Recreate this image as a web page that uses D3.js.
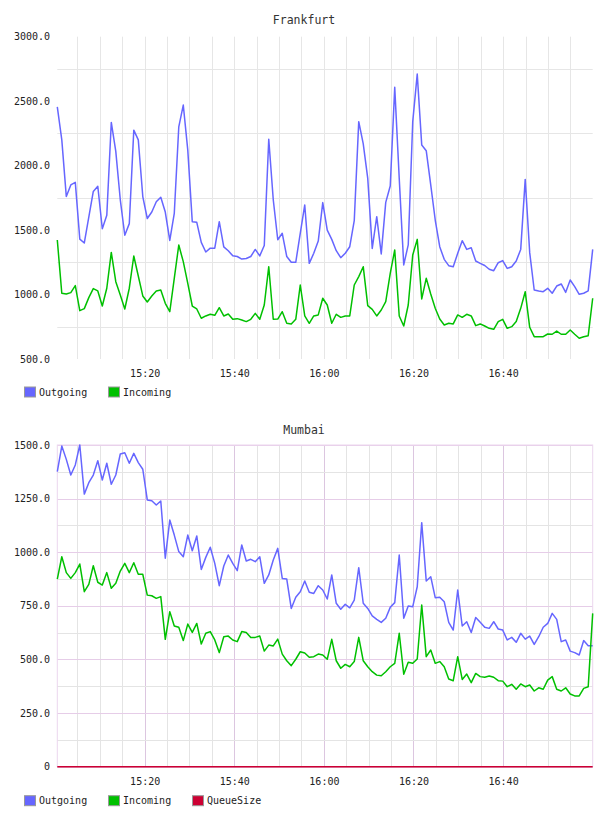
<!DOCTYPE html>
<html><head><meta charset="utf-8">
<script src="https://cdn.jsdelivr.net/npm/d3@7"></script>
<style>body{margin:0;background:#fff}svg{display:block}</style>
</head><body>
<svg id="c" width="608" height="816"></svg>
<script>
// ---- data ----
const startTime = [15, 0, 30];      // first sample h,m,s
const stepSeconds = 60.25;          // sampling interval
const xTickLabels = ["15:20", "15:40", "16:00", "16:20", "16:40"];
const seriesNames = ["Outgoing", "Incoming", "QueueSize"];
const frankfurtYTicks = [500, 1000, 1500, 2000, 2500, 3000];
const mumbaiYTicks = [0, 250, 500, 750, 1000, 1250, 1500];

const frankfurtOutgoing = [2455,2200,1760,1850,1870,1430,1400,1600,1800,1840,1510,1615,2335,2110,1735,1460,1550,2275,2200,1760,
1590,1640,1720,1755,1640,1420,1630,2300,2470,2120,1565,1560,1405,1330,1360,1360,1565,1370,1340,1300,
1295,1275,1280,1295,1350,1300,1380,2205,1735,1425,1475,1295,1250,1250,1475,1695,1242,1320,1415,1713,
1500,1428,1340,1286,1320,1371,1573,2341,2168,1901,1358,1604,1315,1715,1842,2607,1900,1230,1385,2341,
2710,2160,2116,1850,1578,1371,1273,1224,1216,1320,1418,1350,1363,1260,1242,1225,1196,1185,1247,1263,
1203,1216,1260,1350,1893,1325,1035,1028,1022,1048,1010,1066,1082,1017,1113,1061,1002,1010,1028,1350];

const frankfurtIncoming = [1423,1010,1004,1015,1069,875,891,976,1046,1028,911,1049,1327,1100,997,888,1049,1299,1144,989,
942,989,1028,1035,932,867,1126,1384,1255,1087,911,888,816,834,847,839,898,834,849,808,
813,803,790,808,854,808,919,1216,808,810,867,777,772,808,1074,834,777,834,842,971,
919,777,847,823,834,834,1074,1139,1216,914,885,834,880,945,1165,1346,834,756,919,1307,
1428,966,1126,1004,893,810,764,777,772,842,823,847,834,759,772,756,738,730,790,808,
738,751,790,893,1022,746,673,673,673,694,692,717,692,692,725,692,661,673,681,971];

const mumbaiOutgoing = [1376,1495,1433,1360,1407,1500,1271,1324,1360,1427,1337,1415,1317,1360,1458,1464,1415,1461,1418,1387,
1244,1240,1220,1239,972,1150,1080,1003,979,1080,1007,1076,920,976,1023,948,844,936,987,948,
914,1034,959,967,956,979,855,894,964,1018,878,875,738,790,816,866,813,808,844,824,
782,894,762,734,757,741,777,928,762,738,703,687,673,692,743,765,987,692,749,746,
839,1138,866,886,788,790,769,673,637,824,656,676,626,696,673,650,645,676,642,637,
591,603,580,622,595,609,570,606,650,668,715,687,583,591,539,532,521,588,564,564];

const mumbaiIncoming = [875,979,905,878,905,945,816,850,937,860,847,905,832,855,912,948,905,951,897,897,
800,797,785,793,594,723,656,650,588,665,626,668,572,622,630,591,532,606,609,591,
583,630,626,602,603,609,539,567,563,595,525,494,471,501,536,530,510,513,525,521,
501,594,494,459,477,466,490,603,494,466,443,427,424,443,466,482,622,431,487,482,
502,754,513,544,482,490,466,409,401,513,407,432,392,435,420,417,423,417,401,399,
373,384,361,386,373,381,353,368,361,404,420,361,353,368,339,330,330,365,373,715];

const mumbaiQueueSize = [0,0,0,0,0,0,0,0,0,0,0,0,0,0,0,0,0,0,0,0,
0,0,0,0,0,0,0,0,0,0,0,0,0,0,0,0,0,0,0,0,
0,0,0,0,0,0,0,0,0,0,0,0,0,0,0,0,0,0,0,0,
0,0,0,0,0,0,0,0,0,0,0,0,0,0,0,0,0,0,0,0,
0,0,0,0,0,0,0,0,0,0,0,0,0,0,0,0,0,0,0,0,
0,0,0,0,0,0,0,0,0,0,0,0,0,0,0,0,0,0,0,0];

// ---- build ----
const colors = {Outgoing: "#6666ff", Incoming: "#00c000", QueueSize: "#cc0033"};
const FONT = "'DejaVu Sans Mono', monospace";
const base = new Date(2012, 0, 1, startTime[0], startTime[1], startTime[2]);
const times = frankfurtOutgoing.map((_, i) => new Date(+base + i * stepSeconds * 1000));
const parseHM = s => { const [h, m] = s.split(":").map(Number); return new Date(2012, 0, 1, h, m, 0); };
const xTickDates = xTickLabels.map(parseHM);

const svg = d3.select("#c");
const left = 57.3, right = 592.7;
const x = d3.scaleTime().domain([times[0], times[times.length - 1]]).range([left, right]);

function drawChart(cfg) {
  const g = svg.append("g");
  const y = d3.scaleLinear().domain([cfg.yMin, cfg.yMax]).range([cfg.bottom, cfg.top]);

  // vertical grid every 5 minutes
  const fiveMin = d3.timeMinute.every(5).range(x.domain()[0], x.domain()[1]);
  g.append("g").selectAll("line").data(fiveMin).join("line")
    .attr("x1", d => Math.round(x(d)) + 0.5).attr("x2", d => Math.round(x(d)) + 0.5)
    .attr("y1", cfg.top).attr("y2", cfg.bottom)
    .attr("stroke", d => (cfg.majorV && d.getMinutes() % 20 === 0) ? cfg.majorV : cfg.minorColor)
    .attr("stroke-width", 1);

  // horizontal grid
  const hLines = d3.range(cfg.yMin, cfg.yMax + 1, cfg.gridStep);
  g.append("g").selectAll("line").data(hLines).join("line")
    .attr("x1", left).attr("x2", right)
    .attr("y1", d => Math.round(y(d)) + 0.5).attr("y2", d => Math.round(y(d)) + 0.5)
    .attr("stroke", d => (d % cfg.labelStep === 0) ? cfg.majorH : cfg.minorColor)
    .attr("stroke-width", 1);

  if (cfg.border) {
    g.append("rect").attr("x", left).attr("y", cfg.top)
      .attr("width", right - left).attr("height", cfg.bottom - cfg.top)
      .attr("fill", "none").attr("stroke", cfg.border);
  }

  // y axis labels
  g.append("g").selectAll("text").data(cfg.yTicks).join("text")
    .attr("x", 50).attr("y", d => y(d))
    .attr("text-anchor", "end").attr("dominant-baseline", "central")
    .attr("font-family", FONT).attr("font-size", 10).attr("fill", "#222")
    .text(d => d === 0 ? "0" : d.toFixed(1));

  // x axis labels
  const xAxis = d3.axisBottom(x).tickValues(xTickDates).tickFormat(d3.timeFormat("%H:%M")).tickSize(0).tickPadding(0);
  const ax = g.append("g").attr("transform", `translate(0,${cfg.xLabelY})`).call(xAxis);
  ax.select(".domain").remove();
  ax.selectAll("text").attr("font-family", FONT).attr("font-size", 10).attr("fill", "#222")
    .attr("dy", null).attr("y", 0).attr("dominant-baseline", "central");

  // lines
  const line = d3.line().x((d, i) => x(times[i])).y(d => y(d));
  cfg.series.forEach(s => {
    g.append("path").datum(s.values).attr("d", line)
      .attr("fill", "none").attr("stroke", colors[s.name])
      .attr("stroke-width", 1.5).attr("stroke-linejoin", "round");
  });

  // title
  g.append("text").attr("x", 304).attr("y", cfg.titleY)
    .attr("text-anchor", "middle").attr("dominant-baseline", "central")
    .attr("font-family", FONT).attr("font-size", 11.5).attr("fill", "#333")
    .text(cfg.title);

  // legend
  const lg = g.append("g").selectAll("g").data(cfg.series).join("g")
    .attr("transform", (d, i) => `translate(${24.5 + i * 84},${cfg.legendY})`);
  lg.append("rect").attr("x", 0).attr("y", -5).attr("width", 11).attr("height", 10)
    .attr("fill", d => colors[d.name]).attr("stroke", "#999").attr("stroke-width", 1);
  lg.append("text").attr("x", 14.5).attr("y", 0).attr("dominant-baseline", "central")
    .attr("font-family", FONT).attr("font-size", 10).attr("fill", "#222")
    .text(d => d.name);
}

drawChart({
  title: "Frankfurt", titleY: 20, top: 36.7, bottom: 359,
  yMin: 500, yMax: 3000, gridStep: 250, labelStep: 500, yTicks: frankfurtYTicks,
  minorColor: "#e6e6e6", majorH: "none", majorV: null, border: null,
  xLabelY: 373, legendY: 392,
  series: [{name: seriesNames[0], values: frankfurtOutgoing}, {name: seriesNames[1], values: frankfurtIncoming}]
});

drawChart({
  title: "Mumbai", titleY: 429.5, top: 445, bottom: 766.7,
  yMin: 0, yMax: 1500, gridStep: 125, labelStep: 250, yTicks: mumbaiYTicks,
  minorColor: "#e4e4e4", majorH: "#e6cde8", majorV: "#dcc6e0", border: "#ecd6ee",
  xLabelY: 781.7, legendY: 800.7,
  series: [{name: seriesNames[0], values: mumbaiOutgoing}, {name: seriesNames[1], values: mumbaiIncoming},
           {name: seriesNames[2], values: mumbaiQueueSize}]
});
</script>
</body></html>
